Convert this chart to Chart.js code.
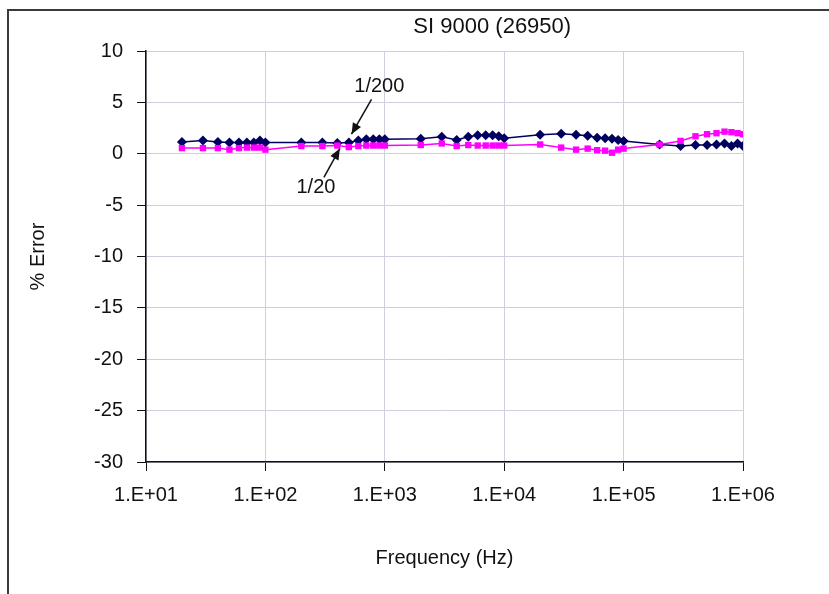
<!DOCTYPE html>
<html><head><meta charset="utf-8">
<script src="https://cdn.jsdelivr.net/npm/chart.js@4.4.1/dist/chart.umd.min.js"></script>
<style>html,body{margin:0;padding:0;background:#fff}canvas{display:block}</style>
</head><body>
<canvas id="c" width="829" height="594"></canvas>
<script>
const frequencies = [20,30,40,50,60,70,80,90,100,
  200,300,400,500,600,700,800,900,1000,
  2000,3000,4000,5000,6000,7000,8000,9000,10000,
  20000,30000,40000,50000,60000,70000,80000,90000,100000,
  200000,300000,400000,500000,600000,700000,800000,900000,1000000];
const error1_200 = [1.15,1.3,1.15,1.1,1.1,1.1,1.1,1.3,1.1,
  1.1,1.1,1.05,1.1,1.3,1.4,1.4,1.4,1.4,
  1.45,1.65,1.35,1.65,1.8,1.8,1.8,1.7,1.5,
  1.85,1.95,1.85,1.75,1.55,1.5,1.45,1.35,1.25,
  0.9,0.75,0.85,0.85,0.9,1.0,0.75,1.0,0.75];
const error1_20 = [0.55,0.55,0.55,0.4,0.55,0.6,0.6,0.6,0.4,
  0.75,0.75,0.8,0.65,0.75,0.8,0.8,0.8,0.8,
  0.85,1.0,0.75,0.85,0.8,0.8,0.8,0.8,0.8,
  0.9,0.6,0.4,0.5,0.35,0.3,0.1,0.4,0.5,
  0.9,1.25,1.7,1.9,2.0,2.15,2.1,2.0,1.9];
const xTickValues = [10,100,1000,10000,100000,1000000];
const seriesLabels = ['1/200','1/20'];
const chartTitle = 'SI 9000 (26950)';
const xTitle = 'Frequency (Hz)';
const yTitle = '% Error';

const notes = [
  {text:'1/200', tx:900, ty:6.5, fx:774, fy:5.3, px:526, py:1.9},
  {text:'1/20',  tx:265, ty:-3.3, fx:309, fy:-2.3, px:420, py:0.5}
];

const FONT = '"Liberation Sans", Arial, sans-serif';
const FS = 20;

const frame = {
  id:'frame',
  beforeDraw(chart){
    const c = chart.ctx;
    c.save(); c.fillStyle='#fff'; c.fillRect(0,0,chart.width,chart.height); c.restore();
  },
  afterDraw(chart){
    const c = chart.ctx, a = chart.chartArea;
    c.save();
    c.strokeStyle='#3a3a3a'; c.lineWidth=2;
    c.beginPath(); c.moveTo(8,chart.height+2); c.lineTo(8,10); c.lineTo(chart.width+2,10); c.stroke();
    c.fillStyle='#111'; c.font='22px '+FONT; c.textAlign='center'; c.textBaseline='middle';
    c.fillText(chartTitle, a.left + 0.58*(a.right-a.left), 27);
    c.font=FS+'px '+FONT;
    const xs = chart.scales.x, ys = chart.scales.y;
    c.strokeStyle='#111'; c.lineWidth=1.5;
    notes.forEach(n=>{
      c.fillText(n.text, xs.getPixelForValue(n.tx), ys.getPixelForValue(n.ty));
      const x1=xs.getPixelForValue(n.fx), y1=ys.getPixelForValue(n.fy);
      const x2=xs.getPixelForValue(n.px), y2=ys.getPixelForValue(n.py);
      c.beginPath(); c.moveTo(x1,y1); c.lineTo(x2,y2); c.stroke();
      const ang=Math.atan2(y2-y1,x2-x1), L=12, W=0.4;
      c.beginPath(); c.moveTo(x2,y2);
      c.lineTo(x2-L*Math.cos(ang-W), y2-L*Math.sin(ang-W));
      c.lineTo(x2-L*Math.cos(ang+W), y2-L*Math.sin(ang+W));
      c.closePath(); c.fill();
    });
    c.restore();
  }
};

new Chart(document.getElementById('c'), {
  type:'line',
  data:{
    labels: frequencies,
    datasets:[
      {label:seriesLabels[0], data:frequencies.map((f,i)=>({x:f,y:error1_200[i]})),
       borderColor:'#000060', backgroundColor:'#000060', borderWidth:1.5,
       pointStyle:'rectRot', pointRadius:5, pointBorderWidth:0, order:1},
      {label:seriesLabels[1], data:frequencies.map((f,i)=>({x:f,y:error1_20[i]})),
       borderColor:'#ff00ff', backgroundColor:'#ff00ff', borderWidth:1.5,
       pointStyle:'rect', pointRadius:4.5, pointBorderWidth:0, order:0}
    ]
  },
  options:{
    responsive:false, animation:false,
    layout:{padding:{left:22, right:86, top:51, bottom:20}},
    plugins:{legend:{display:false}, tooltip:{enabled:false}},
    scales:{
      x:{type:'logarithmic', min:10, max:1000000,
        afterBuildTicks(s){ s.ticks = xTickValues.map(v=>({value:v})); },
        afterFit(s){ s.height = 112; },
        grid:{color:'#cfcfe0', lineWidth:1, tickLength:9, tickColor:'#111', drawTicks:true},
        border:{color:'#111', width:1.5},
        ticks:{color:'#111', font:{family:FONT, size:FS}, padding:12, maxRotation:0, autoSkip:false,
          callback:(v)=>'1.E+' + String(Math.round(Math.log10(v))).padStart(2,'0')},
        title:{display:true, text:xTitle, color:'#111', font:{family:FONT, size:FS}, padding:{top:16}}
      },
      y:{min:-30, max:10,
        afterFit(s){ s.width = 124; },
        grid:{color:'#cfcfe0', lineWidth:1, tickLength:9, tickColor:'#111'},
        border:{color:'#111', width:1.5},
        ticks:{stepSize:5, color:'#111', font:{family:FONT, size:FS}, padding:14},
        title:{display:true, text:yTitle, color:'#111', font:{family:FONT, size:FS}, padding:{bottom:20}}
      }
    }
  },
  plugins:[frame]
});
</script>
</body></html>
